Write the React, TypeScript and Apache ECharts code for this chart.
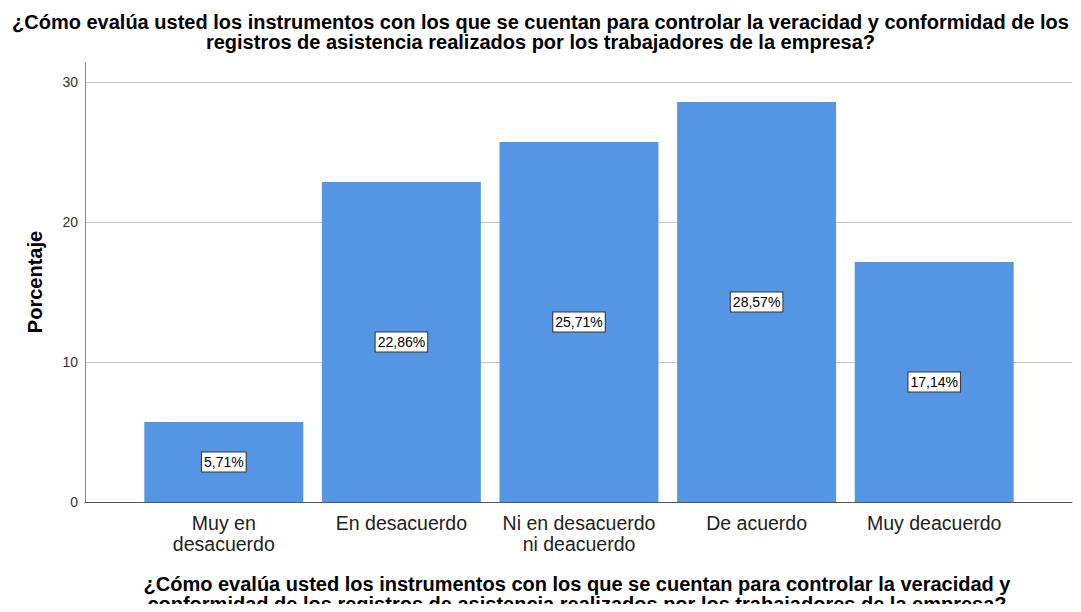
import React, { useEffect, useRef } from "react";
import * as echarts from "echarts";

const categories = [
  "Muy en\ndesacuerdo",
  "En desacuerdo",
  "Ni en desacuerdo\nni deacuerdo",
  "De acuerdo",
  "Muy deacuerdo",
];
const values = [5.71, 22.86, 25.71, 28.57, 17.14];
const yTicks = [0, 10, 20, 30];
const yAxisTitle = "Porcentaje";

const titleText =
  "¿Cómo evalúa usted los instrumentos con los que se cuentan para controlar la veracidad y conformidad de los\nregistros de asistencia realizados por los trabajadores de la empresa?";
const xTitleText =
  "¿Cómo evalúa usted los instrumentos con los que se cuentan para controlar la veracidad y\nconformidad de los registros de asistencia realizados por los trabajadores de la empresa?";

const FONT = "Liberation Sans, Arial, sans-serif";

export default function App() {
  const ref = useRef<HTMLDivElement>(null);
  useEffect(() => {
    if (!ref.current) return;
    const chart = echarts.init(ref.current, null, { renderer: "svg" });
    chart.setOption({
      animation: false,
      backgroundColor: "#ffffff",
      title: [
        {
          text: titleText,
          left: "center",
          top: 12,
          padding: 0,
          textStyle: {
            fontFamily: FONT,
            fontSize: 20,
            fontWeight: "bold",
            color: "#000",
            lineHeight: 20,
          },
        },
        {
          text: xTitleText,
          left: 577,
          textAlign: "center",
          top: 574,
          padding: 0,
          textStyle: {
            fontFamily: FONT,
            fontSize: 20,
            fontWeight: "bold",
            color: "#000",
            lineHeight: 20,
          },
        },
      ],
      grid: [
        { left: 85, right: 9, top: 82, bottom: 110 },
        { left: 135, right: 58, top: 82, bottom: 110 },
      ],
      xAxis: [
        {
          gridIndex: 0,
          type: "value",
          min: 0,
          max: 1,
          axisLine: { show: true, onZero: false, lineStyle: { color: "#555", width: 1 } },
          axisTick: { show: false },
          axisLabel: { show: false },
          splitLine: { show: false },
        },
        {
          gridIndex: 1,
          type: "category",
          data: categories,
          axisLine: { show: false },
          axisTick: { show: false },
          axisLabel: {
            fontFamily: FONT,
            fontSize: 19.5,
            color: "#222",
            lineHeight: 21,
            margin: 10,
            interval: 0,
          },
        },
      ],
      yAxis: [
        {
          gridIndex: 0,
          type: "value",
          min: 0,
          max: 30,
          interval: 10,
          axisLine: { show: true, lineStyle: { color: "#888", width: 1 } },
          axisTick: { show: false },
          axisLabel: {
            fontFamily: FONT,
            fontSize: 14,
            color: "#333",
            margin: 7,
            formatter: (v: number) => (yTicks.includes(v) ? String(v) : ""),
          },
          splitLine: { show: true, lineStyle: { color: "#c8c8c8", width: 1 } },
        },
        {
          gridIndex: 1,
          type: "value",
          min: 0,
          max: 30,
          show: false,
        },
      ],
      graphic: [
        {
          type: "line",
          shape: { x1: 85.5, y1: 62, x2: 85.5, y2: 82 },
          style: { stroke: "#888", lineWidth: 1 },
          z: 10,
        },
        {
          type: "text",
          x: 35,
          y: 282,
          rotation: Math.PI / 2,
          style: {
            text: yAxisTitle,
            fontFamily: FONT,
            fontSize: 20,
            fontWeight: "bold",
            fill: "#000",
            align: "center",
            verticalAlign: "middle",
          },
        },
      ],
      series: [
        {
          type: "bar",
          xAxisIndex: 1,
          yAxisIndex: 1,
          data: values,
          barCategoryGap: "10.5%",
          itemStyle: { color: "#5596e4" },
          label: {
            show: true,
            position: "inside",
            formatter: (p: any) => p.value.toFixed(2).replace(".", ",") + "%",
            fontFamily: FONT,
            fontSize: 14,
            color: "#000",
            backgroundColor: "#fff",
            borderColor: "#333",
            borderWidth: 1,
            padding: [3, 2, 2, 2],
          },
        },
      ],
    });
    return () => chart.dispose();
  }, []);
  return <div ref={ref} style={{ width: 1081, height: 612, margin: -8 }} />;
}
